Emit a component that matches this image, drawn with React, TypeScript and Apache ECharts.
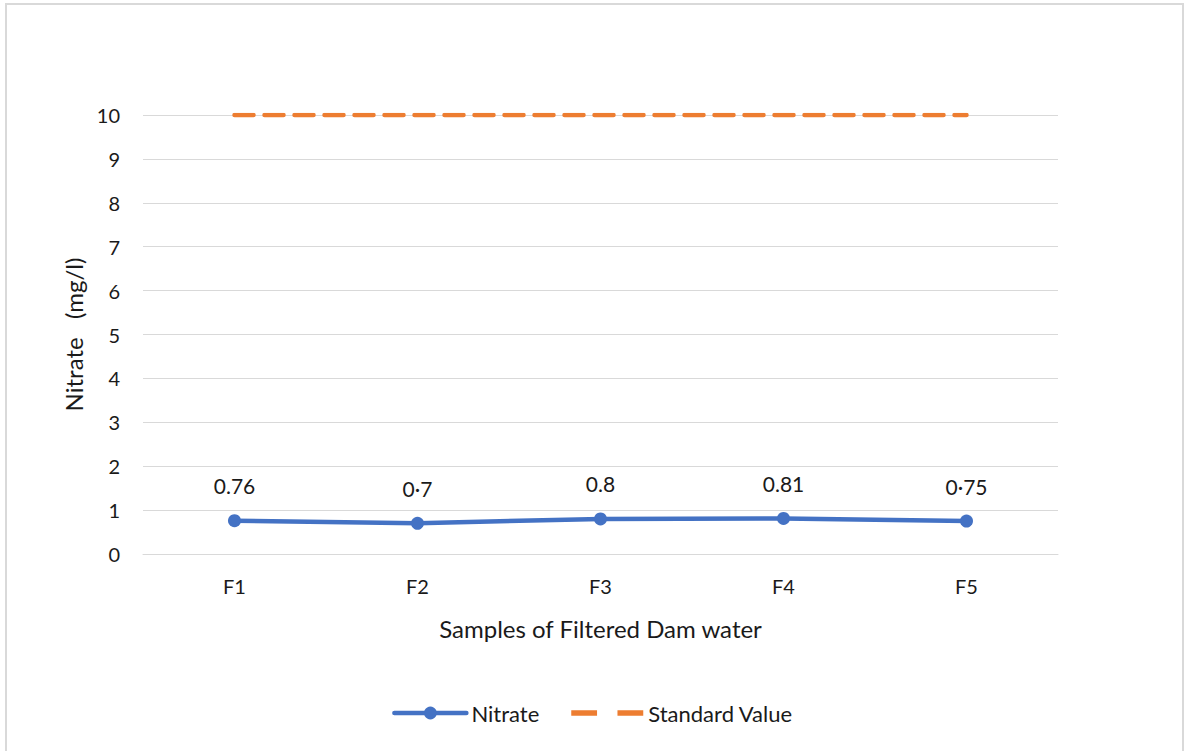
import React, { useEffect, useRef } from "react";
import * as echarts from "echarts";

const categories = ["F1", "F2", "F3", "F4", "F5"];
const nitrateValues = [0.76, 0.7, 0.8, 0.81, 0.75];
const nitrateLabels = ["0.76", "0·7", "0.8", "0.81", "0·75"];
const standardValues = [10, 10, 10, 10, 10];
const yTicks = [0, 1, 2, 3, 4, 5, 6, 7, 8, 9, 10];

const FONT = "Lato, 'Open Sans', sans-serif";
const TEXT = "#1a1a1a";
const BLUE = "#4472C4";
const ORANGE = "#ED7D31";

// two short dashes for the standard-value legend key
const DASH_ICON = "path://M0,0 H24 V5 H0 Z M43,0 H67 V5 H43 Z";

export default function App() {
  const ref = useRef<HTMLDivElement>(null);

  useEffect(() => {
    if (!ref.current) return;
    const chart = echarts.init(ref.current, undefined, { renderer: "svg" });
    chart.setOption({
      animation: false,
      backgroundColor: "#ffffff",
      textStyle: { fontFamily: FONT },
      graphic: [
        {
          type: "rect",
          shape: { x: 6, y: 4, width: 1177, height: 780 },
          style: { fill: "none", stroke: "#d9d9d9", lineWidth: 2 },
          silent: true,
        },
      ],
      grid: { left: 143, right: 127, top: 115, bottom: 197 },
      legend: {
        bottom: 22,
        left: "center",
        itemWidth: 72,
        itemHeight: 16,
        itemGap: 32,
        lineStyle: { width: 4.5 },
        textStyle: { fontFamily: FONT, fontSize: 22, color: TEXT },
        data: [
          { name: "Nitrate" },
          { name: "Standard Value", icon: DASH_ICON, itemStyle: { color: ORANGE } },
        ],
      },
      xAxis: {
        type: "category",
        data: categories,
        boundaryGap: true,
        axisLine: { show: true, lineStyle: { color: "#d9d9d9", width: 1 } },
        axisTick: { show: false },
        axisLabel: { fontFamily: FONT, fontSize: 20, color: TEXT, margin: 22 },
        name: "Samples of Filtered Dam water",
        nameLocation: "middle",
        nameGap: 62,
        nameTextStyle: { fontFamily: FONT, fontSize: 24, color: TEXT },
      },
      yAxis: {
        type: "value",
        min: yTicks[0],
        max: yTicks[yTicks.length - 1],
        interval: 1,
        axisLine: { show: false },
        axisTick: { show: false },
        splitLine: { lineStyle: { color: "#d9d9d9", width: 1 } },
        axisLabel: { fontFamily: FONT, fontSize: 20, color: TEXT, margin: 23 },
        name: "Nitrate   (mg/l)",
        nameLocation: "middle",
        nameGap: 58,
        nameRotate: 90,
        nameTextStyle: { fontFamily: FONT, fontSize: 24, color: TEXT },
      },
      series: [
        {
          name: "Nitrate",
          type: "line",
          data: nitrateValues,
          color: BLUE,
          symbol: "circle",
          symbolSize: 13,
          lineStyle: { width: 4.5, color: BLUE, cap: "round" },
          itemStyle: { color: BLUE },
          label: {
            show: true,
            position: "top",
            distance: 18,
            fontFamily: FONT,
            fontSize: 21,
            color: TEXT,
            formatter: (p: any) => nitrateLabels[p.dataIndex],
          },
          z: 3,
        },
        {
          name: "Standard Value",
          type: "line",
          data: standardValues,
          color: ORANGE,
          symbol: "none",
          lineStyle: {
            width: 4.5,
            color: ORANGE,
            type: [19, 11],
            cap: "round",
          },
          itemStyle: { color: ORANGE },
          z: 2,
        },
      ],
    });
    return () => chart.dispose();
  }, []);

  return (
    <div
      ref={ref}
      style={{ position: "fixed", left: 0, top: 0, width: 1185, height: 751 }}
    />
  );
}
